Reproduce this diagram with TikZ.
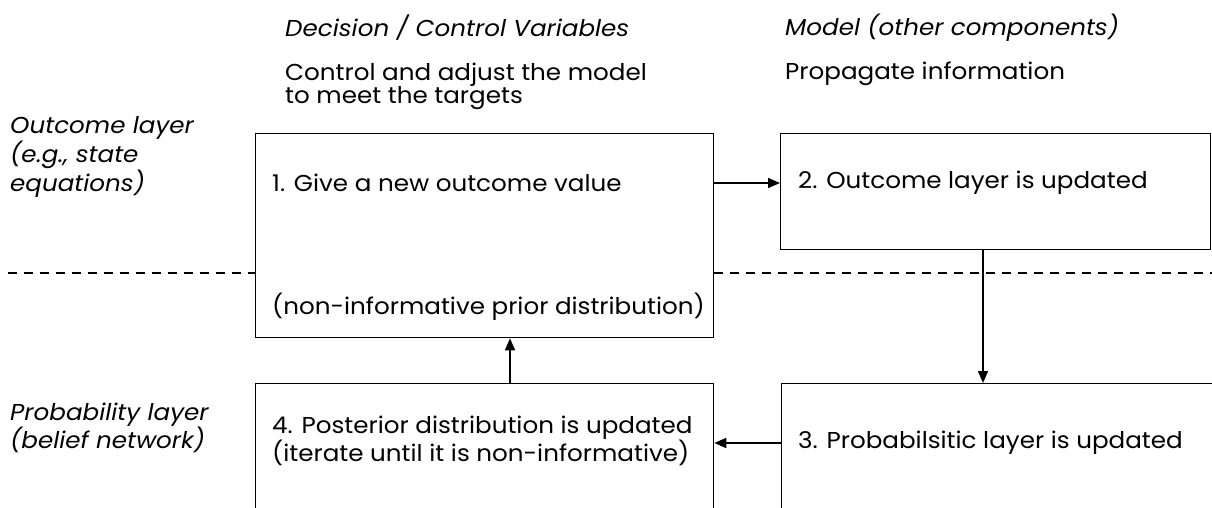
\documentclass[tikz,border=0pt]{standalone}
\usepackage{fontspec}
\setmainfont{Poppins}[FakeStretch=1.07]
\usetikzlibrary{arrows.meta}
\begin{document}
\begin{tikzpicture}[x=1pt,y=-1pt,
  box/.style={draw, line width=1.3pt, anchor=north west, inner sep=0pt},
  txt/.style={anchor=west, font=\fontsize{23}{23}\selectfont, align=left, inner sep=0pt},
  lbl/.style={anchor=west, font=\fontsize{23}{25}\selectfont\itshape, align=left, inner sep=0pt},
  flow/.style={-{Triangle[length=12pt,width=10pt]}, line width=1.6pt},
  layer/.style={dash pattern=on 9pt off 7pt, line width=1.6pt}]
\useasboundingbox (0,0) rectangle (1212,507);
\clip (0,0) rectangle (1212,507);

% column headings
\node[lbl] (h1) at (285,28) {Decision / Control Variables};
\node[lbl] (h2) at (785,28) {Model (other components)};
\node[txt] (d1) at (285,86) {Control and adjust the model\\to meet the targets};
\node[txt] (d2) at (785,74) {Propagate information};

% layer labels
\node[lbl] (l1) at (10,157) {Outcome layer\\(e.g., state\\equations)};
\node[lbl] (l2) at (10,428) {Probability layer\\(belief network)};

% boxes (the lower ones run off the bottom edge)
\node[box, minimum width=458pt, minimum height=204pt] (b1) at (255,133) {};
\node[box, minimum width=430pt, minimum height=116pt] (b2) at (780,133) {};
\node[box, minimum width=460pt, minimum height=150pt] (b3) at (781,383) {};
\node[box, minimum width=458pt, minimum height=150pt] (b4) at (255,383) {};

% box texts
\node[txt] (t1) at (272,183) {1. Give a new outcome value};
\node[txt] (t1b) at (272,307) {(non-informative prior distribution)};
\node[txt] (t2) at (798,183) {2. Outcome layer is updated};
\node[txt] (t3) at (798,443) {3. Probabilsitic layer is updated};
\node[txt] (t4) at (272,441) {4. Posterior distribution is updated\\(iterate until it is non-informative)};

% layer separator
\coordinate (dl) at (8,273);
\coordinate (dr) at (1212,273);
\draw[layer] (dl) -- (dl -| b1.west);
\draw[layer] (dl -| b1.east) -- (dr);

% flow of the cycle
\coordinate (x23) at (983,0);
\coordinate (x41) at (510,0);
\draw[flow] (t1 -| b1.east) -- (t1 -| b2.west);
\draw[flow] (x23 |- b2.south) -- (x23 |- b3.north);
\draw[flow] (t3 -| b3.west) -- (t3 -| b4.east);
\draw[flow] (x41 |- b4.north) -- (x41 |- b1.south);
\end{tikzpicture}
\end{document}
